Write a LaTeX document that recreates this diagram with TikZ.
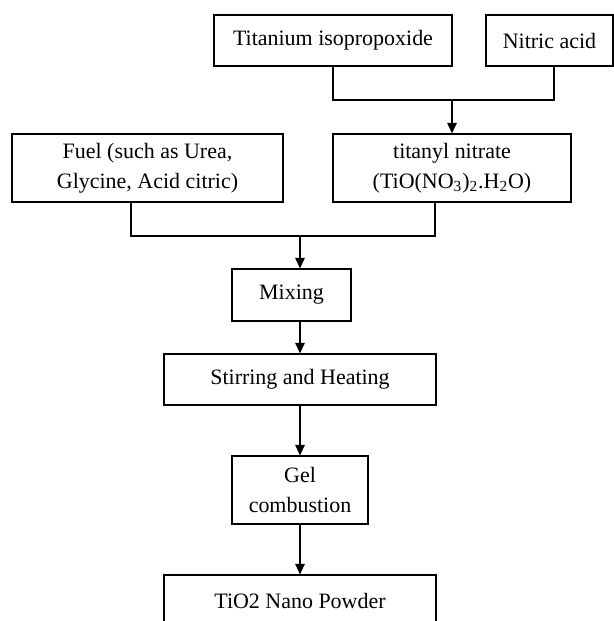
\documentclass[tikz,border=0pt]{standalone}
\usepackage{fontspec}
\setmainfont{Liberation Serif}
\usetikzlibrary{arrows.meta}

\begin{document}
\begin{tikzpicture}[line width=0.7pt,
  box/.style={draw,align=center,inner sep=0pt,font=\fontsize{12.5}{17}\selectfont},
  arr/.style={-{Triangle[length=2.1mm,width=1.9mm]}}]
\useasboundingbox (0,0) rectangle (12.28,12.42);

\node[box,minimum width=4.76cm,minimum height=1.02cm] (tip) at (6.66,11.61) {Titanium isopropoxide};
\node[box,minimum width=2.54cm,minimum height=1.02cm] (nitric) at (10.99,11.61) {Nitric acid};

\node[box,minimum width=5.42cm,minimum height=1.36cm] (fuel) at (2.95,9.06) {Fuel (such as Urea,\\Glycine, Acid citric)};
\node[box,minimum width=4.76cm,minimum height=1.36cm] (tn) at (9.04,9.06) {titanyl nitrate\\(TiO(NO\textsubscript{3})\textsubscript{2}.H\textsubscript{2}O)};

\node[box,minimum width=2.38cm,minimum height=1.04cm] (mix) at (5.83,6.52) {Mixing};
\node[box,minimum width=5.44cm,minimum height=1.02cm] (stir) at (6,4.83) {Stirring and Heating};
\node[box,minimum width=2.72cm,minimum height=1.36cm] (gel) at (6,2.62) {Gel\\combustion};
\node[box,minimum width=5.44cm,minimum height=1.02cm] (powder) at (6,0.41) {TiO2 Nano Powder};

% join of the two liquids
\coordinate (j1) at (9.04,10.42);
\draw (tip.south) |- (j1) -| (11.08,0 |- nitric.south);
\draw[arr] (j1) -- (tn.north);

% join of fuel and nitrate
\coordinate (j2) at (6,7.70);
\draw (2.62,0 |- fuel.south) |- (j2) -| (8.70,0 |- tn.south);
\draw[arr] (j2) -- (j2 |- mix.north);

\draw[arr] (j2 |- mix.south) -- (stir.north);
\draw[arr] (stir.south) -- (gel.north);
\draw[arr] (gel.south) -- (powder.north);

\end{tikzpicture}
\end{document}
